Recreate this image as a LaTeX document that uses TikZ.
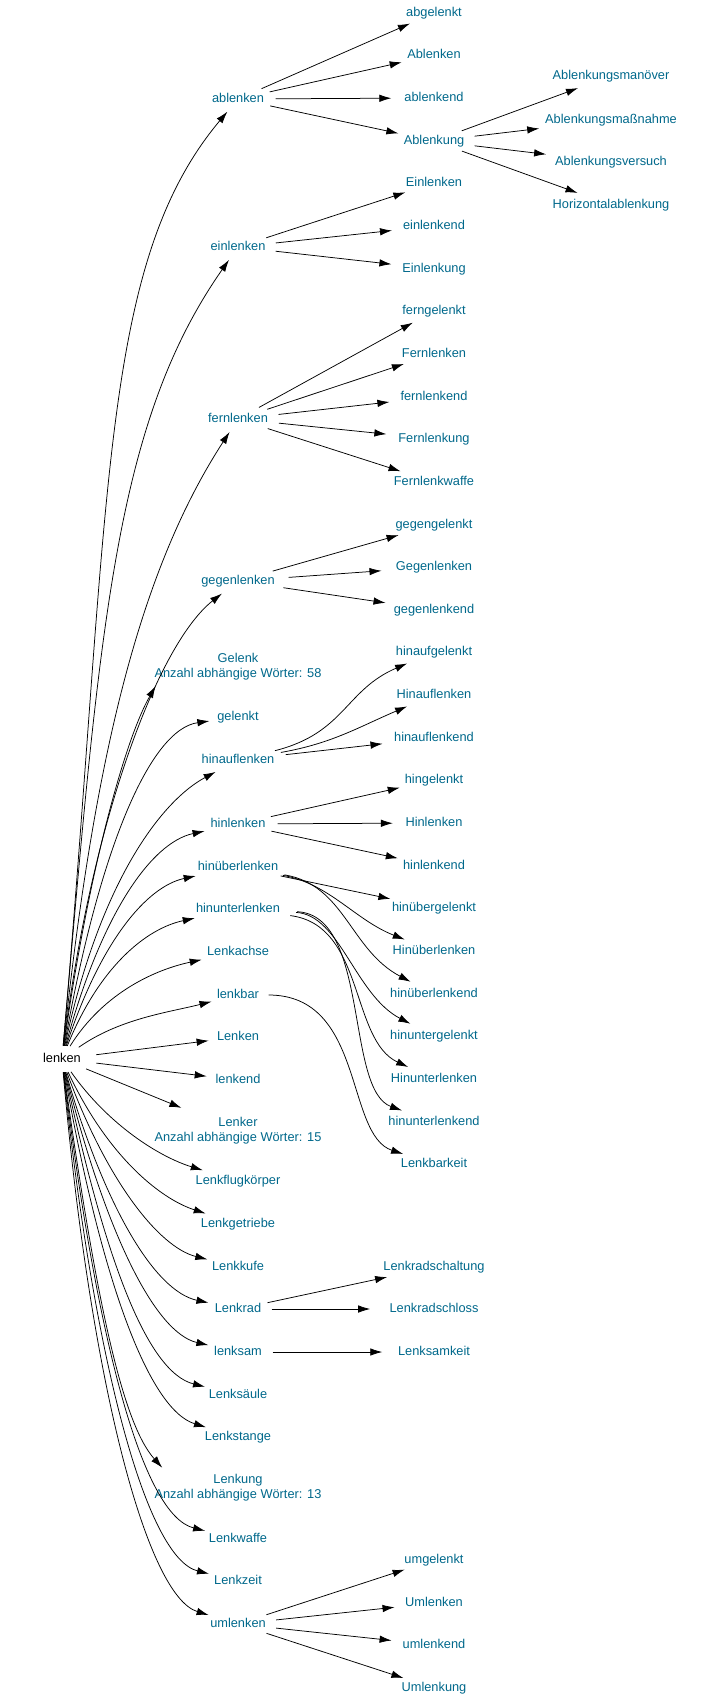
\documentclass[tikz,border=0pt]{standalone}
\usepackage{fontspec}
\setmainfont{Liberation Sans}
\usepackage{tikz}
\usetikzlibrary{arrows.meta, shapes.geometric}
\definecolor{wordblue}{RGB}{0,104,139}
\tikzstyle{word} = [ellipse, inner xsep=0.5pt, inner ysep=0pt, minimum height=26pt,
    text=wordblue, text height=9.5pt, text depth=2.5pt, font=\fontsize{12.8}{15}\selectfont]
\tikzstyle{info} = [ellipse, inner xsep=0.5pt, inner ysep=5pt, align=center,
    text=wordblue, font=\fontsize{12.8}{15}\selectfont]
\tikzstyle{root} = [word, text=black, minimum width=72pt]

\begin{document}
\begin{tikzpicture}[
x = 1pt, y = 1pt,
link/.style = {draw, line width=0.75pt, -{Latex[length=12pt, width=7.5pt]}}
                    ]
\useasboundingbox (0,0) rectangle (708,-1699);

\node [root] (lenken) at (62,-1059) {lenken};

% level 2
\node [word] (ablenken) at (238,-99) {ablenken};
\node [word] (einlenken) at (238,-247) {einlenken};
\node [word] (fernlenken) at (238,-419) {fernlenken};
\node [word] (gegenlenken) at (238,-581) {gegenlenken};
\node [info] (Gelenk) at (238,-667) {Gelenk\\Anzahl abhängige Wörter: 58};
\node [word] (gelenkt) at (238,-717) {gelenkt};
\node [word] (hinauflenken) at (238,-760) {hinauflenken};
\node [word] (hinlenken) at (238,-824) {hinlenken};
\node [word] (hinueberlenken) at (238,-867) {hinüberlenken};
\node [word] (hinunterlenken) at (238,-909) {hinunterlenken};
\node [word] (Lenkachse) at (238,-952) {Lenkachse};
\node [word] (lenkbar) at (238,-995) {lenkbar};
\node [word] (Lenken) at (238,-1037) {Lenken};
\node [word] (lenkend) at (238,-1080) {lenkend};
\node [info] (Lenker) at (238,-1131) {Lenker\\Anzahl abhängige Wörter: 15};
\node [word] (Lenkflugkoerper) at (238,-1181) {Lenkflugkörper};
\node [word] (Lenkgetriebe) at (238,-1224) {Lenkgetriebe};
\node [word] (Lenkkufe) at (238,-1267) {Lenkkufe};
\node [word] (Lenkrad) at (238,-1309) {Lenkrad};
\node [word] (lenksam) at (238,-1352) {lenksam};
\node [word] (Lenksaeule) at (238,-1395) {Lenksäule};
\node [word] (Lenkstange) at (238,-1437) {Lenkstange};
\node [info] (Lenkung) at (238,-1488) {Lenkung\\Anzahl abhängige Wörter: 13};
\node [word] (Lenkwaffe) at (238,-1539) {Lenkwaffe};
\node [word] (Lenkzeit) at (238,-1581) {Lenkzeit};
\node [word] (umlenken) at (238,-1624) {umlenken};

% level 3
\node [word] (abgelenkt) at (434,-13) {abgelenkt};
\node [word] (Ablenken) at (434,-55) {Ablenken};
\node [word] (ablenkend) at (434,-98) {ablenkend};
\node [word] (Ablenkung) at (434,-141) {Ablenkung};
\node [word] (Einlenken) at (434,-183) {Einlenken};
\node [word] (einlenkend) at (434,-226) {einlenkend};
\node [word] (Einlenkung) at (434,-269) {Einlenkung};
\node [word] (ferngelenkt) at (434,-311) {ferngelenkt};
\node [word] (Fernlenken) at (434,-354) {Fernlenken};
\node [word] (fernlenkend) at (434,-397) {fernlenkend};
\node [word] (Fernlenkung) at (434,-439) {Fernlenkung};
\node [word] (Fernlenkwaffe) at (434,-482) {Fernlenkwaffe};
\node [word] (gegengelenkt) at (434,-525) {gegengelenkt};
\node [word] (Gegenlenken) at (434,-567) {Gegenlenken};
\node [word] (gegenlenkend) at (434,-610) {gegenlenkend};
\node [word] (hinaufgelenkt) at (434,-652) {hinaufgelenkt};
\node [word] (Hinauflenken) at (434,-695) {Hinauflenken};
\node [word] (hinauflenkend) at (434,-738) {hinauflenkend};
\node [word] (hingelenkt) at (434,-780) {hingelenkt};
\node [word] (Hinlenken) at (434,-823) {Hinlenken};
\node [word] (hinlenkend) at (434,-866) {hinlenkend};
\node [word] (hinuebergelenkt) at (434,-908) {hinübergelenkt};
\node [word] (Hinueberlenken) at (434,-951) {Hinüberlenken};
\node [word] (hinueberlenkend) at (434,-994) {hinüberlenkend};
\node [word] (hinuntergelenkt) at (434,-1036) {hinuntergelenkt};
\node [word] (Hinunterlenken) at (434,-1079) {Hinunterlenken};
\node [word] (hinunterlenkend) at (434,-1122) {hinunterlenkend};
\node [word] (Lenkbarkeit) at (434,-1164) {Lenkbarkeit};
\node [word] (Lenkradschaltung) at (434,-1267) {Lenkradschaltung};
\node [word] (Lenkradschloss) at (434,-1309) {Lenkradschloss};
\node [word] (Lenksamkeit) at (434,-1352) {Lenksamkeit};
\node [word] (umgelenkt) at (434,-1560) {umgelenkt};
\node [word] (Umlenken) at (434,-1603) {Umlenken};
\node [word] (umlenkend) at (434,-1645) {umlenkend};
\node [word] (Umlenkung) at (434,-1688) {Umlenkung};

% level 4
\node [word] (Ablenkungsmanoever) at (611,-76) {Ablenkungsmanöver};
\node [word] (Ablenkungsmassnahme) at (611,-120) {Ablenkungsmaßnahme};
\node [word] (Ablenkungsversuch) at (611,-162) {Ablenkungsversuch};
\node [word] (Horizontalablenkung) at (611,-205) {Horizontalablenkung};

% lenken fan, upper half
\draw [link] (lenken) to [out=85, in=230, out distance=550pt, in distance=200pt] (ablenken);
\draw [link] (lenken) to [out=85, in=235, out distance=420pt, in distance=200pt] (einlenken);
\draw [link] (lenken) to [out=84, in=237, out distance=300pt, in distance=160pt] (fernlenken);
\draw [link] (lenken) to [out=83, in=218, out distance=230pt, in distance=80pt] (gegenlenken);
\draw [link] (lenken) to [out=82, in=240, out distance=180pt, in distance=60pt] (Gelenk.193);
\draw [link] (lenken) to [out=80, in=188, out distance=200pt, in distance=60pt] (gelenkt);
\draw [link] (lenken) to [out=78, in=208, out distance=170pt, in distance=60pt] (hinauflenken);
\draw [link] (lenken) to [out=75, in=192, out distance=135pt, in distance=55pt] (hinlenken);
\draw [link] (lenken) to [out=72, in=192, out distance=110pt, in distance=50pt] (hinueberlenken);
\draw [link] (lenken) to [out=68, in=192, out distance=85pt, in distance=50pt] (hinunterlenken);
\draw [link] (lenken) to [out=58, in=192, out distance=65pt, in distance=45pt] (Lenkachse);
\draw [link] (lenken) to [out=35, in=194, out distance=50pt, in distance=45pt] (lenkbar);
\draw [link] (lenken) -- (Lenken);
% lenken fan, lower half
\draw [link] (lenken) -- (lenkend);
\draw [link] (lenken) -- (Lenker);
\draw [link] (lenken) to [out=-55, in=163, out distance=65pt, in distance=45pt] (Lenkflugkoerper);
\draw [link] (lenken) to [out=-65, in=162, out distance=90pt, in distance=50pt] (Lenkgetriebe);
\draw [link] (lenken) to [out=-70, in=166, out distance=115pt, in distance=50pt] (Lenkkufe);
\draw [link] (lenken) to [out=-74, in=168, out distance=140pt, in distance=55pt] (Lenkrad);
\draw [link] (lenken) to [out=-76, in=167, out distance=165pt, in distance=55pt] (lenksam);
\draw [link] (lenken) to [out=-78, in=166, out distance=190pt, in distance=60pt] (Lenksaeule);
\draw [link] (lenken) to [out=-80, in=163, out distance=210pt, in distance=60pt] (Lenkstange);
\draw [link] (lenken) to [out=-82, in=132, out distance=230pt, in distance=60pt] (Lenkung.165);
\draw [link] (lenken) to [out=-83, in=166, out distance=270pt, in distance=65pt] (Lenkwaffe);
\draw [link] (lenken) to [out=-84, in=166, out distance=290pt, in distance=65pt] (Lenkzeit);
\draw [link] (lenken) to [out=-85, in=163, out distance=310pt, in distance=65pt] (umlenken);

% level 2 -> level 3
\draw [link] (ablenken) -- (abgelenkt);
\draw [link] (ablenken) -- (Ablenken);
\draw [link] (ablenken) -- (ablenkend);
\draw [link] (ablenken) -- (Ablenkung);
\draw [link] (einlenken) -- (Einlenken);
\draw [link] (einlenken) -- (einlenkend);
\draw [link] (einlenken) -- (Einlenkung);
\draw [link] (fernlenken) -- (ferngelenkt);
\draw [link] (fernlenken) -- (Fernlenken);
\draw [link] (fernlenken) -- (fernlenkend);
\draw [link] (fernlenken) -- (Fernlenkung);
\draw [link] (fernlenken) -- (Fernlenkwaffe);
\draw [link] (gegenlenken) -- (gegengelenkt);
\draw [link] (gegenlenken) -- (Gegenlenken);
\draw [link] (gegenlenken) -- (gegenlenkend);
\draw [link] (hinauflenken) .. controls (345,-733) and (345,-690) .. (hinaufgelenkt);
\draw [link] (hinauflenken) to [out=10, in=203] (Hinauflenken);
\draw [link] (hinauflenken) -- (hinauflenkend);
\draw [link] (hinlenken) -- (hingelenkt);
\draw [link] (hinlenken) -- (Hinlenken);
\draw [link] (hinlenken) -- (hinlenkend);
\draw [link] (hinueberlenken) -- (hinuebergelenkt);
\draw [link] (hinueberlenken) .. controls (330,-884) and (355,-920) .. (Hinueberlenken);
\draw [link] (hinueberlenken) .. controls (345,-885) and (350,-950) .. (hinueberlenkend);
\draw [link] (hinunterlenken) .. controls (340,-915) and (355,-995) .. (hinuntergelenkt);
\draw [link] (hinunterlenken) .. controls (365,-925) and (350,-1040) .. (Hinunterlenken);
\draw [link] (hinunterlenken) .. controls (370,-915) and (345,-1090) .. (hinunterlenkend);
\draw [link] (lenkbar) .. controls (365,-995) and (345,-1135) .. (Lenkbarkeit);
\draw [link] (Lenkrad) -- (Lenkradschaltung);
\draw [link] (Lenkrad) -- (Lenkradschloss);
\draw [link] (lenksam) -- (Lenksamkeit);
\draw [link] (umlenken) -- (umgelenkt);
\draw [link] (umlenken) -- (Umlenken);
\draw [link] (umlenken) -- (umlenkend);
\draw [link] (umlenken) -- (Umlenkung);

% level 3 -> level 4
\draw [link] (Ablenkung) -- (Ablenkungsmanoever);
\draw [link] (Ablenkung) -- (Ablenkungsmassnahme);
\draw [link] (Ablenkung) -- (Ablenkungsversuch);
\draw [link] (Ablenkung) -- (Horizontalablenkung);
\end{tikzpicture}
\end{document}
